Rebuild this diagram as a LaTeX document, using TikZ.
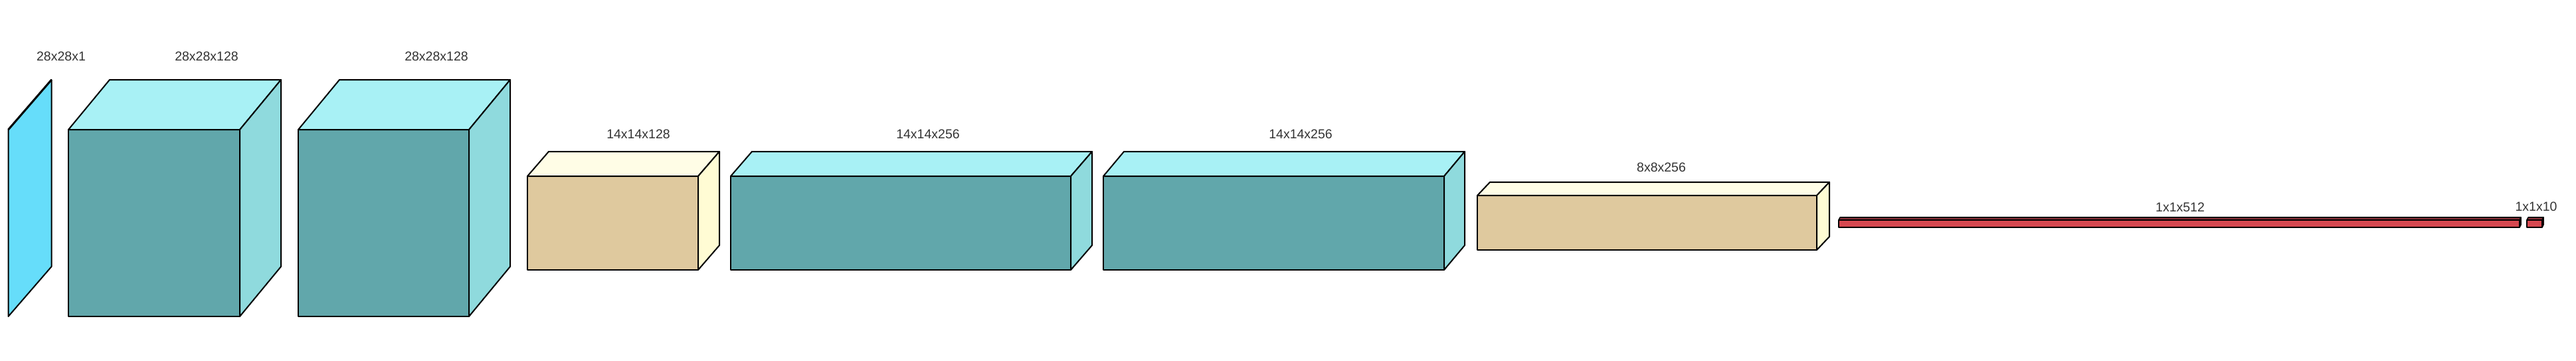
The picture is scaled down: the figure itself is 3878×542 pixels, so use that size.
\documentclass[tikz,border=0pt]{standalone}
\usepackage{fontspec}
\setmainfont{Liberation Sans}
\definecolor{inblue}{HTML}{66DDFA}
\definecolor{tealfront}{HTML}{61A7AB}
\definecolor{tealtop}{HTML}{A8F1F5}
\definecolor{tealside}{HTML}{8FDADD}
\definecolor{tanfront}{HTML}{DFC99E}
\definecolor{tantop}{HTML}{FFFDE6}
\definecolor{tanside}{HTML}{FFFCD4}
\definecolor{redfront}{HTML}{D64850}
\definecolor{redtop}{HTML}{8A3038}
\definecolor{labelgray}{HTML}{333333}
\newcommand{\layerbox}[9]{%
  \filldraw[fill=#7] (#1,#2) rectangle ({#1+#3},{#2+#4});
  \filldraw[fill=#8] (#1,#2) -- ++(#5,#6) -- ++(#3,0) -- ++(-#5,-#6) -- cycle;
  \filldraw[fill=#9] ({#1+#3},#2) -- ++(#5,#6) -- ++(0,#4) -- ++(-#5,-#6) -- cycle;
}
\begin{document}
\begin{tikzpicture}[x=1pt,y=-1pt,line width=2pt,line join=round,
  lbl/.style={font=\fontsize{19.5}{22}\selectfont,text=labelgray,inner sep=0pt}]
\useasboundingbox (0,0) rectangle (3878,542);
% input plane
\filldraw[fill=inblue] (12.5,195) -- ++(65,-75) -- ++(0,281) -- ++(-65,75) -- cycle;
\draw[line width=3pt] (12.5,195) -- ++(65,-75);
% conv blocks
\layerbox{103}{195}{258}{281}{62}{-75}{tealfront}{tealtop}{tealside}
\layerbox{449}{195}{257}{281}{62}{-75}{tealfront}{tealtop}{tealside}
\layerbox{794}{265}{257}{141}{32}{-37}{tanfront}{tantop}{tanside}
\layerbox{1100}{265}{512}{141}{32}{-37}{tealfront}{tealtop}{tealside}
\layerbox{1661}{265}{513}{141}{31}{-37}{tealfront}{tealtop}{tealside}
\layerbox{2224}{294}{511}{82}{19}{-20}{tanfront}{tantop}{tanside}
\begin{scope}[line width=1.6pt]
\layerbox{2768}{331}{1025}{11}{2}{-4}{redfront}{redtop}{redtop}
\layerbox{3804}{331}{23}{11}{2}{-4}{redfront}{redtop}{redtop}
\end{scope}
% labels
\node[lbl] (l1) at (92,85) {28x28x1};
\node[lbl] (l2) at (311,85) {28x28x128};
\node[lbl] (l3) at (657,85) {28x28x128};
\node[lbl] (l4) at (961,202) {14x14x128};
\node[lbl] (l5) at (1397,202) {14x14x256};
\node[lbl] (l6) at (1958,202) {14x14x256};
\node[lbl] (l7) at (2501,252) {8x8x256};
\node[lbl] (l8) at (3282,312) {1x1x512};
\node[lbl] (l9) at (3818,311) {1x1x10};
\end{tikzpicture}
\end{document}
